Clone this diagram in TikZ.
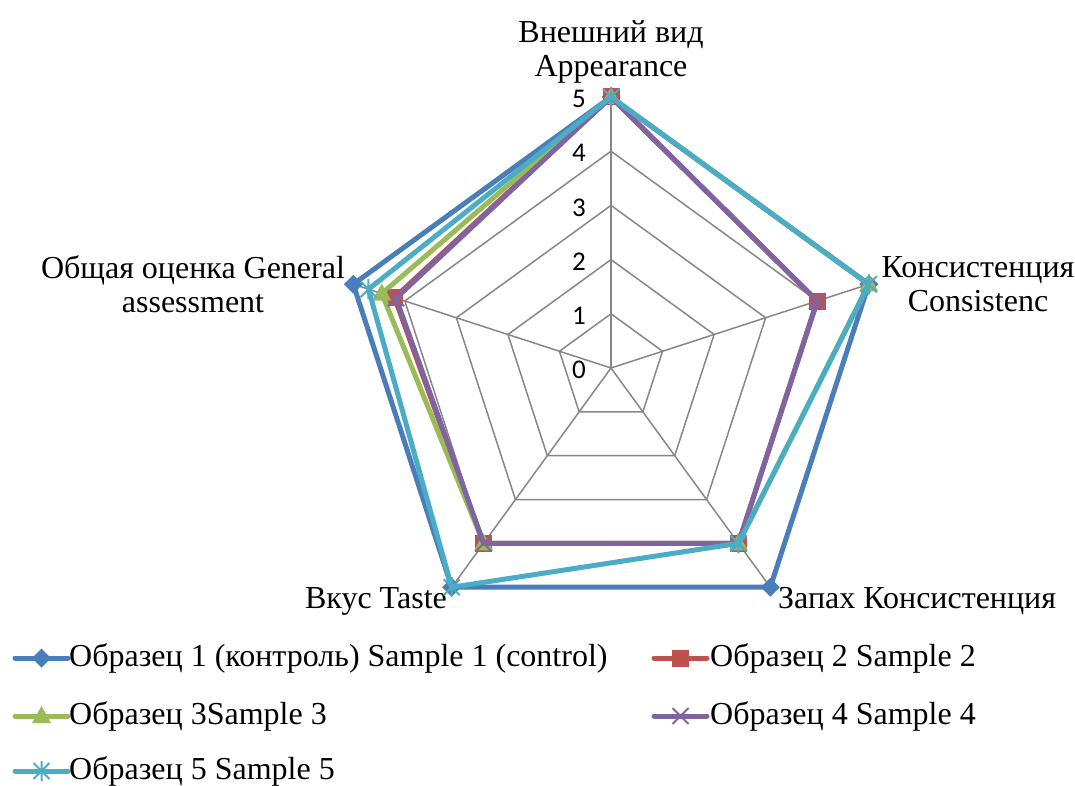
\documentclass[tikz,border=0pt]{standalone}
\usepackage{fontspec}
\setmainfont{Liberation Serif}
\newfontfamily\xifres{Carlito}
\definecolor{gris}{HTML}{878787}
\definecolor{blau}{HTML}{4A7EBB}
\definecolor{vermell}{HTML}{C0504D}
\definecolor{verd}{HTML}{9BBB59}
\definecolor{lila}{HTML}{8064A2}
\definecolor{cian}{HTML}{4BACC6}
\begin{document}
\begin{tikzpicture}[x=1pt,y=1pt,
	reixa/.style={draw=gris,line width=1.5pt},
	serie/.style={line width=5pt,line join=round},
	llegenda/.style={line width=5pt,line cap=round},
	eix/.style={font=\fontsize{32}{34}\selectfont,align=center,inner sep=0pt},
	xifra/.style={font=\xifres\fontsize{27}{29}\selectfont,inner sep=0pt},
	pics/rombe/.style={code={\fill (0,9.5) -- (9.5,0) -- (0,-9.5) -- (-9.5,0) -- cycle;}},
	pics/quadrat/.style={code={\fill (-8.5,-8.5) rectangle (8.5,8.5);}},
	pics/triangle/.style={code={\fill (0,10) -- (9.5,-7) -- (-9.5,-7) -- cycle;}},
	pics/creu/.style={code={\draw[line width=2pt] (-8,-8) -- (8,8) (-8,8) -- (8,-8);}},
	pics/estel/.style={code={\draw[line width=2pt] (-8,-8) -- (8,8) (-8,8) -- (8,-8) (0,-10) -- (0,10);}}]
	
	\useasboundingbox (0,0) rectangle (1075,785);
	
	\begin{scope}[shift={(611,417)}]
		
		% Reixa
		\foreach \n in {1,...,5}
		\draw[reixa] (90:\n*54.2) -- (18:\n*54.2) -- (-54:\n*54.2) -- (-126:\n*54.2) -- (162:\n*54.2) -- cycle;
		\foreach \a in {90,18,-54,-126,162}
		\draw[reixa] (0,0) -- (\a:271);
		
		% Escala
		\foreach \n in {0,...,5}
		\node[xifra,anchor=east] (v\n) at (-25,\n*54.2-2) {\n};
		
		% Eixos
		\node[eix] (aspecte) at (0,316) {Внешний вид\\Appearance};
		\node[eix] (consist) at (367,84) {Консистенция\\Consistenc};
		\node[eix] (general) at (-418,84) {Общая оценка General\\assessment};
		\node[eix,anchor=base west] (olor) at (167,-240) {Запах Консистенция};
		\node[eix,anchor=base east] (gust) at (-164,-240) {Вкус Taste};
		
		% Mostra 1
		\draw[serie,blau] (90:271) -- (18:271) -- (-54:271) -- (-126:271) -- (162:271) -- cycle;
		\foreach \p in {(90:271),(18:271),(-54:271),(-126:271),(162:271)}
		\pic[blau] at \p {rombe};
		
		% Mostra 2
		\draw[serie,vermell] (90:271) -- (18:216.8) -- (-54:216.8) -- (-126:216.8) -- (162:227.6) -- cycle;
		\foreach \p in {(90:271),(18:216.8),(-54:216.8),(-126:216.8),(162:227.6)}
		\pic[vermell] at \p {quadrat};
		
		% Mostra 3
		\draw[serie,verd] (90:271) -- (18:271) -- (-54:216.8) -- (-126:216.8) -- (162:241) -- cycle;
		\foreach \p in {(90:271),(18:271),(-54:216.8),(-126:216.8),(162:241)}
		\pic[verd] at \p {triangle};
		
		% Mostra 4
		\draw[serie,lila] (90:271) -- (18:216.8) -- (-54:216.8) -- (-126:216.8) -- (162:226) -- cycle;
		\foreach \p in {(90:271),(18:216.8),(-54:216.8),(-126:216.8),(162:226)}
		\pic[lila] at \p {creu};
		
		% Mostra 5
		\draw[serie,cian] (90:271) -- (18:271) -- (-54:216.8) -- (-126:271) -- (162:255) -- cycle;
		\foreach \p in {(90:271),(18:271),(-54:216.8),(-126:271),(162:255)}
		\pic[cian] at \p {estel};
		
	\end{scope}
	
	% Llegenda
	\draw[llegenda,blau] (15,127) -- (68,127);
	\pic[blau] at (41.5,127) {rombe};
	\node[eix,anchor=west] (m1) at (69,127) {Образец 1 (контроль) Sample 1 (control)};
	
	\draw[llegenda,vermell] (654,127) -- (707,127);
	\pic[vermell] at (680.5,127) {quadrat};
	\node[eix,anchor=west] (m2) at (710,127) {Образец 2 Sample 2};
	
	\draw[llegenda,verd] (15,69) -- (68,69);
	\pic[verd] at (41.5,69) {triangle};
	\node[eix,anchor=west] (m3) at (69,69) {Образец 3Sample 3};
	
	\draw[llegenda,lila] (654,69) -- (707,69);
	\pic[lila] at (680.5,69) {creu};
	\node[eix,anchor=west] (m4) at (710,69) {Образец 4 Sample 4};
	
	\draw[llegenda,cian] (15,14) -- (68,14);
	\pic[cian] at (41.5,14) {estel};
	\node[eix,anchor=west] (m5) at (69,14) {Образец 5 Sample 5};
	
\end{tikzpicture}
\end{document}
